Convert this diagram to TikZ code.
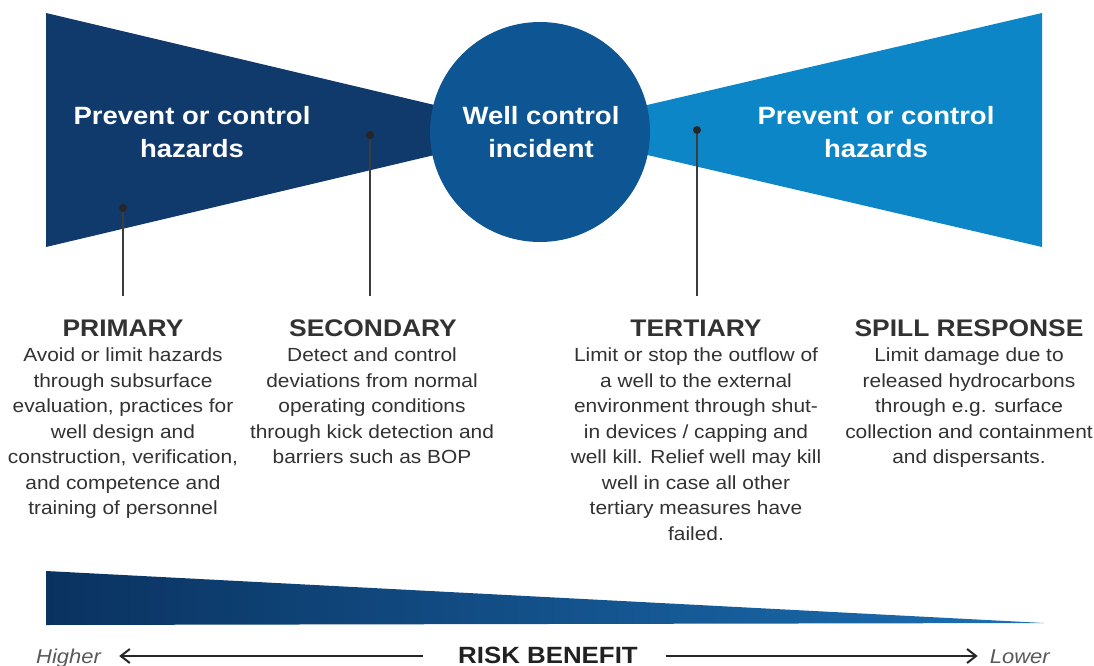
\documentclass[tikz,border=0pt]{standalone}
\usepackage{fontspec}
\setmainfont[FakeStretch=1.1]{Liberation Sans}
\usetikzlibrary{arrows.meta}
\definecolor{navy}{RGB}{16,57,108}
\definecolor{midblue}{RGB}{14,85,148}
\definecolor{lightblue}{RGB}{12,134,198}
\definecolor{barleft}{RGB}{10,50,96}
\definecolor{barright}{RGB}{28,112,180}
\definecolor{txt}{RGB}{50,50,50}
\definecolor{leadc}{RGB}{60,60,60}
\begin{document}
\begin{tikzpicture}[x=1pt,y=-1pt,
  title/.style={text=white, align=center, inner sep=0pt,
    font=\fontsize{25}{33}\selectfont\bfseries},
  head/.style={text=txt, inner sep=0pt, anchor=base,
    font=\fontsize{24}{28}\selectfont\bfseries},
  body/.style={text=txt, align=center, inner sep=0pt, anchor=north,
    font=\fontsize{19}{25.5}\selectfont},
  dot/.style={circle, fill=black!85, inner sep=0pt, minimum size=8pt},
  lead/.style={draw=leadc, line width=1.4pt},
  rarrow/.style={draw=black!85, line width=2pt, -{Straight Barb[length=9pt,width=14pt,line width=2pt]}},
  scale label/.style={text=black!65, inner sep=0pt,
    font=\fontsize{20}{22}\selectfont\itshape}
]
\path[fill=white] (0,0) rectangle (1094,666);
\useasboundingbox (0,0) rectangle (1094,666);

% bow-tie shapes
\fill[navy] (46,13) -- (540,130) -- (46,247) -- cycle;
\fill[lightblue] (1042,13) -- (540,130) -- (1042,247) -- cycle;
\node[circle, fill=midblue, minimum size=220pt, inner sep=0pt] (inc) at (540,132) {};

\node[title] (tl) at (192,132) {Prevent or control\\hazards};
\node[title] (tc) at (541,132) {Well control\\incident};
\node[title] (tr) at (876,132) {Prevent or control\\hazards};

% leader dots and lines
\node[dot] (d1) at (123,208) {};
\node[dot] (d2) at (370,135) {};
\node[dot] (d3) at (697,130) {};
\coordinate (e1) at (123,296);
\coordinate (e2) at (370,296);
\coordinate (e3) at (697,296);
\draw[lead] (d1) -- (e1);
\draw[lead] (d2) -- (e2);
\draw[lead] (d3) -- (e3);

% headings
\node[head] (h1) at (123,336) {PRIMARY};
\node[head] (h2) at (373,336) {SECONDARY};
\node[head] (h3) at (696,336) {TERTIARY};
\node[head] (h4) at (969,336) {SPILL RESPONSE};

% bodies
\node[body] (b1) at (123,348) {Avoid or limit hazards\\through subsurface\\evaluation, practices for\\well design and\\construction, verification,\\and competence and\\training of personnel};
\node[body] (b2) at (372,348) {Detect and control\\deviations from normal\\operating conditions\\through kick detection and\\barriers such as BOP};
\node[body] (b3) at (696,348) {Limit or stop the outflow of\\a well to the external\\environment through shut-\\in devices / capping and\\well kill. Relief well may kill\\well in case all other\\tertiary measures have\\failed.};
\node[body] (b4) at (969,348) {Limit damage due to\\released hydrocarbons\\through e.g. surface\\collection and containment\\and dispersants.};

% risk benefit bar
\shade[left color=barleft, right color=barright] (46,571) -- (1044,623) -- (46,625) -- cycle;

\node[scale label, anchor=base west] (hi) at (36,663) {Higher};
\node[scale label, anchor=base east] (lo) at (1050,663) {Lower};
\node[inner sep=0pt, anchor=base, text=black!87, font=\fontsize{23.5}{26}\selectfont\bfseries] (rb) at (548,663) {RISK BENEFIT};
\draw[rarrow, shorten <=35pt, shorten >=18pt] ([yshift=7pt]rb.base west) -- ([yshift=7pt]hi.base east);
\draw[rarrow, shorten <=28pt, shorten >=12pt] ([yshift=7pt]rb.base east) -- ([yshift=7pt]lo.base west);
\end{tikzpicture}
\end{document}
